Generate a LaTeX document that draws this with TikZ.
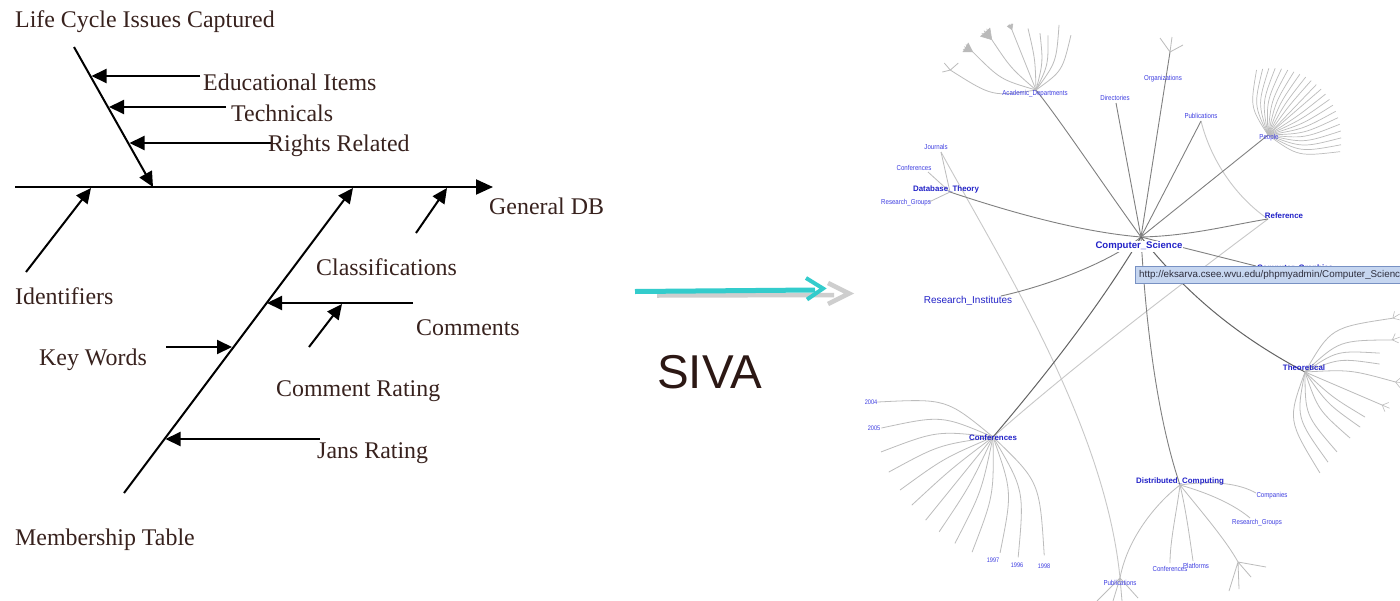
\documentclass[tikz,border=0pt]{standalone}
\usepackage{fontspec}
\setmainfont{Liberation Serif}
\setsansfont{Liberation Sans}
\newfontfamily\narrowsans[FakeStretch=0.85]{Liberation Sans}
\usetikzlibrary{arrows.meta,calc}

\definecolor{fishink}{RGB}{56,34,30}
\definecolor{sivaink}{RGB}{44,24,20}
\definecolor{arrowteal}{RGB}{51,204,204}
\definecolor{arrowshade}{RGB}{206,206,206}
\definecolor{nodeblue}{RGB}{34,34,200}
\definecolor{leafblue}{RGB}{62,62,225}
\definecolor{spokegray}{RGB}{128,128,128}
\definecolor{spokedark}{RGB}{100,100,100}
\definecolor{leafgray}{RGB}{188,188,188}
\definecolor{wedgegray}{RGB}{185,185,185}
\definecolor{crossgray}{RGB}{200,200,200}
\definecolor{tipfill}{RGB}{198,214,240}
\definecolor{tipline}{RGB}{120,145,195}
\definecolor{tiptext}{RGB}{45,45,60}

\tikzset{
  bone/.style={line width=2pt, draw=black},
  bonearrow/.style={bone, -{Triangle[length=15pt,width=14pt]}},
  spinearrow/.style={bone, -{Triangle[length=17pt,width=15pt]}},
  fishtext/.style={anchor=base west, inner sep=0pt, text=fishink,
    font=\fontsize{23.9}{28}\selectfont},
  spokeline/.style={draw=spokegray, line width=0.9pt},
  darkspoke/.style={draw=spokedark, line width=1pt},
  leafline/.style={draw=leafgray, line width=0.8pt},
  crossline/.style={draw=crossgray, line width=0.9pt},
  tinylbl/.style={inner sep=0pt, text=leafblue, font=\narrowsans\fontsize{6.6}{7}\selectfont},
  smalllbl/.style={inner sep=0pt, text=leafblue, font=\narrowsans\fontsize{7.2}{8}\selectfont},
  midlbl/.style={inner sep=0pt, text=nodeblue, font=\sffamily\bfseries\fontsize{7.9}{9}\selectfont},
  focuslbl/.style={inner sep=1pt, fill=white, text=nodeblue, font=\sffamily\bfseries\fontsize{9.6}{11}\selectfont},
  biglbl/.style={inner sep=0pt, text=nodeblue, font=\sffamily\fontsize{10}{11}\selectfont},
  teal arrow/.style={draw=arrowteal, line width=5pt},
  shade arrow/.style={draw=arrowshade, line width=4.5pt},
}

\begin{document}
\begin{tikzpicture}[x=1pt,y=-1pt]
\useasboundingbox (0,0) rectangle (1400,600);
\fill[white] (0,0) rectangle (1400,600);

% ================= fishbone =================
\coordinate (spS) at (15,187);   \coordinate (spE) at (493,187);
\coordinate (lcA) at (74,47);    \coordinate (lcB) at (153,187);
\coordinate (idA) at (26,272);   \coordinate (idB) at (91,188);
\coordinate (mbA) at (124,493);  \coordinate (mbB) at (353,188);
\coordinate (clA) at (416,233);  \coordinate (clB) at (447,188);
\coordinate (eduA) at (200,76);  \coordinate (eduB) at (91.5,76);
\coordinate (tecA) at (226,107); \coordinate (tecB) at (109,107);
\coordinate (rgtA) at (272,143); \coordinate (rgtB) at (129.5,143);
\coordinate (cmA) at (413,303);  \coordinate (cmB) at (267,303);
\coordinate (crA) at (309,347);  \coordinate (crB) at (342,304);
\coordinate (kwA) at (166,347);  \coordinate (kwB) at (232,347);
\coordinate (jrA) at (320,439);  \coordinate (jrB) at (165.5,439);

\draw[spinearrow] (spS) -- (spE);
\draw[bonearrow] (lcA) -- (lcB);
\draw[bonearrow] (idA) -- (idB);
\draw[bonearrow] (mbA) -- (mbB);
\draw[bonearrow] (clA) -- (clB);
\draw[bonearrow] (eduA) -- (eduB);
\draw[bonearrow] (tecA) -- (tecB);
\draw[bonearrow] (rgtA) -- (rgtB);
\draw[bonearrow] (cmA) -- (cmB);
\draw[bonearrow] (crA) -- (crB);
\draw[bonearrow] (kwA) -- (kwB);
\draw[bonearrow] (jrA) -- (jrB);

\node[fishtext] (tLife)   at (15,27)   {Life Cycle Issues Captured};
\node[fishtext] (tEdu)    at (203,90)  {Educational Items};
\node[fishtext] (tTech)   at (231,121) {Technicals};
\node[fishtext] (tRights) at (268,151) {Rights Related};
\node[fishtext] (tGen)    at (489,214) {General DB};
\node[fishtext] (tClass)  at (316,275) {Classifications};
\node[fishtext] (tIdent)  at (15,304)  {Identifiers};
\node[fishtext] (tComm)   at (416,335) {Comments};
\node[fishtext] (tKey)    at (39,365)  {Key Words};
\node[fishtext] (tCRate)  at (276,396) {Comment Rating};
\node[fishtext] (tJans)   at (317,458) {Jans Rating};
\node[fishtext] (tMember) at (15,545)  {Membership Table};

% ================= SIVA arrow =================
\coordinate (shA) at (657,295.5); \coordinate (shB) at (834,295);
\coordinate (shU) at (828,283);   \coordinate (shT) at (849,293.5); \coordinate (shD) at (828,304);
\coordinate (tlA) at (635,291.5); \coordinate (tlB) at (815,290);
\coordinate (tlU) at (806,278);   \coordinate (tlT) at (823,288.5); \coordinate (tlD) at (807,299.5);
\draw[shade arrow] (shA) -- (shB);
\draw[shade arrow, line join=miter] (shU) -- (shT) -- (shD);
\draw[teal arrow] (tlA) -- (tlB);
\draw[teal arrow, line width=4pt, line join=miter] (tlU) -- (tlT) -- (tlD);
\node[anchor=base west, inner sep=0pt, text=sivaink,
      font=\sffamily\fontsize{47.5}{50}\selectfont] (siva) at (657,388) {SIVA};

% ================= hyperbolic tree =================
\coordinate (cs)   at (1141,237);
\coordinate (ad)   at (1036,90);
\coordinate (dirE) at (1116,103);
\coordinate (orgE) at (1170,52);
\coordinate (pubT) at (1201,121);
\coordinate (pp)   at (1268,135);
\coordinate (refN) at (1268,219);
\coordinate (cgN)  at (1256,266);
\coordinate (riN)  at (1001,296);
\coordinate (dtN)  at (950,192);
\coordinate (jr)   at (941,152);
\coordinate (cfL)  at (928,172);
\coordinate (rgL)  at (929,202);
\coordinate (cf)   at (993,437);
\coordinate (dc)   at (1180,485);
\coordinate (th)   at (1305,372);
\coordinate (pb)   at (1120,578);
\coordinate (cmp)  at (1256,493);
\coordinate (rgR)  at (1250,518);
\coordinate (plt)  at (1193,561);
\coordinate (cfs)  at (1170,563);
\coordinate (fk)   at (1238,562);

% cross links
\draw[crossline] (jr) .. controls (1000,260) and (1105,425) .. (pb);
\draw[crossline] (pubT) .. controls (1212,165) and (1240,200) .. (refN);
\draw[crossline] (refN) .. controls (1200,270) and (1080,360) .. (cf);

% spokes of the focus node
\draw[spokeline] (cs) .. controls (1100,180) and (1060,120) .. (ad);
\draw[spokeline] (cs) -- (dirE);
\draw[spokeline] (cs) -- (orgE);
\draw[spokeline] (cs) -- (pubT);
\draw[spokeline] (cs) -- (pp);
\draw[spokeline] (cs) .. controls (1190,236) and (1230,225) .. (refN);
\draw[spokeline] (cs) -- (cgN);
\draw[spokeline] (cs) .. controls (1110,262) and (1050,285) .. (riN);
\draw[spokeline] (cs) .. controls (1080,232) and (1010,212) .. (dtN);
\draw[darkspoke] (cs) .. controls (1100,305) and (1050,370) .. (cf);
\draw[spokeline] (cs) .. controls (1146,330) and (1158,420) .. (dc);
\draw[darkspoke] (cs) .. controls (1185,292) and (1235,335) .. (th);

% Database_Theory children
\draw[leafline] (dtN) -- (jr);
\draw[leafline] (dtN) -- (cfL);
\draw[leafline] (dtN) -- (rgL);

% Organizations twigs
\draw[leafline] (orgE) -- +(-10,-14) (orgE) -- +(2,-15) (orgE) -- +(13,-7);

% Academic_Departments fan
\foreach \a/\r in {166.9/88,148.9/74,131.3/67,111.8/65,97.4/62,86/57,77.7/56,70.5/69,57.5/65}{
  \pgfmathsetmacro\c{\a+0.4*(\a-112)}
  \pgfmathsetmacro\h{0.5*\r}
  \draw[leafline] (ad) .. controls ($(ad)+(\c:\h pt)$) .. ($(ad)+(\a:\r pt)$);
}
\coordinate (adF) at ($(ad)+(166.9:88pt)$);
\draw[leafline] (adF) -- +(-6,-7) (adF) -- +(8,-7) (adF) -- +(-8,2);
\foreach \a/\r/\L in {148.9/74/10,131.3/67/12,111.8/65/6}{
  \coordinate (we) at ($(ad)+(\a:\r pt)$);
  \fill[wedgegray] (we) -- ($(we)+({\a+32}:\L pt)$) -- ($(we)+({\a-32}:\L pt)$) -- cycle;
  \foreach \d in {-32,-16,0,16,32}{
    \draw[leafline, line width=0.6pt] (we) -- ($(we)+({\a+\d}:\L pt)$);
  }
}

% People fan
\foreach \i in {0,...,21}{
  \pgfmathsetmacro\a{100-\i*113/21}
  \pgfmathsetmacro\c{\a+0.4*(\a-43.5)}
  \pgfmathsetmacro\r{66+8*\i/21}
  \pgfmathsetmacro\h{0.5*\r}
  \draw[leafline, line width=0.7pt] (pp) .. controls ($(pp)+(\c:\h pt)$) .. ($(pp)+(\a:\r pt)$);
}

% Theoretical fan
\foreach \a/\r in {31.5/103,20.2/93,14.2/77,6.1/75,-6.3/91,-23.2/84,-36.9/75,-45/78,-55.7/80,-68.2/86,-75.7/93,-81.6/102}{
  \pgfmathsetmacro\c{\a+0.5*(\a+25)}
  \pgfmathsetmacro\h{0.5*\r}
  \draw[leafline] (th) .. controls ($(th)+(\c:\h pt)$) .. ($(th)+(\a:\r pt)$);
}
\foreach \a/\r in {31.5/103,20.2/93,-6.3/91,-23.2/84}{
  \coordinate (fe) at ($(th)+(\a:\r pt)$);
  \draw[leafline, line width=0.6pt] (fe) -- ($(fe)+({\a+45}:7pt)$) (fe) -- ($(fe)+(\a:8pt)$) (fe) -- ($(fe)+({\a-45}:7pt)$);
}

% Conferences fan
\foreach \a/\r in {163.2/121,175.4/112,187.6/113,198.6/110,209.7/107,220/106,231/107,240.4/109,250.3/113,259.7/117,273.5/116,281.8/123,293.4/129}{
  \pgfmathsetmacro\c{\a+0.35*(\a-228)}
  \pgfmathsetmacro\h{0.5*\r}
  \draw[leafline] (cf) .. controls ($(cf)+(\c:\h pt)$) .. ($(cf)+(\a:\r pt)$);
}

% Distributed_Computing children
\draw[leafline] (dc) .. controls (1215,480) and (1240,484) .. (cmp);
\draw[leafline] (dc) .. controls (1212,494) and (1236,506) .. (rgR);
\draw[leafline] (dc) .. controls (1186,510) and (1190,540) .. (plt);
\draw[leafline] (dc) .. controls (1177,510) and (1170,540) .. (cfs);
\draw[leafline] (dc) .. controls (1200,510) and (1226,540) .. (fk);
\draw[leafline] (dc) .. controls (1160,500) and (1128,535) .. (pb);
\draw[leafline] (fk) -- (1229,591) (fk) -- (1239,589) (fk) -- (1251,577) (fk) -- (1266,567);
\draw[leafline] (pb) -- (1097,601) (pb) -- (1113,601) (pb) -- (1122,601) (pb) -- (1138,598);

% labels
\node[smalllbl] (lAD)  at (1035,94)  {Academic\_Departments};
\node[smalllbl] (lDir) at (1115,98)  {Directories};
\node[smalllbl] (lOrg) at (1163,79)  {Organizations};
\node[smalllbl] (lPub) at (1201,116) {Publications};
\node[smalllbl] (lPpl) at (1269,138) {People};
\node[smalllbl] (lJr)  at (936,147)  {Journals};
\node[smalllbl] (lCfL) at (914,168)  {Conferences};
\node[smalllbl] (lRgL) at (906,203)  {Research\_Groups};
\node[midlbl]   (lDT)  at (946,189)  {Database\_Theory};
\node[midlbl]   (lRef) at (1284,216) {Reference};
\node[biglbl]   (lRI)  at (968,301)  {Research\_Institutes};
\node[midlbl]   (lTh)  at (1304,368) {Theoretical};
\node[midlbl]   (lCf)  at (993,438)  {Conferences};
\node[tinylbl]  (l04)  at (871,402)  {2004};
\node[tinylbl]  (l05)  at (874,428)  {2005};
\node[tinylbl]  (l97)  at (993,560)  {1997};
\node[tinylbl]  (l96)  at (1017,565) {1996};
\node[tinylbl]  (l98)  at (1044,566) {1998};
\node[midlbl]   (lDC)  at (1180,481) {Distributed\_Computing};
\node[smalllbl] (lCmp) at (1272,496) {Companies};
\node[smalllbl] (lRgR) at (1257,523) {Research\_Groups};
\node[smalllbl] (lCfs) at (1170,569) {Conferences};
\node[smalllbl] (lPlt) at (1196,566) {Platforms};
\node[smalllbl] (lPb)  at (1120,583) {Publications};
\node[midlbl]   (lCG)  at (1295,268) {Computer\_Graphics};
\node[focuslbl] (lCS)  at (1139,246.5) {Computer\_Science};

% hover tooltip over the focus node
\begin{scope}
  \clip (0,0) rectangle (1400,600);
  \node[anchor=north west, draw=tipline, fill=tipfill, line width=0.8pt,
        minimum width=275pt, minimum height=17pt, inner sep=0pt] (tip) at (1135,266) {};
  \node[anchor=west, inner sep=0pt, text=tiptext,
        font=\sffamily\fontsize{9.8}{11}\selectfont] (tiptxt) at (1139,274.5)
        {http://eksarva.csee.wvu.edu/phpmyadmin/Computer\_Science};
\end{scope}
\end{tikzpicture}
\end{document}
